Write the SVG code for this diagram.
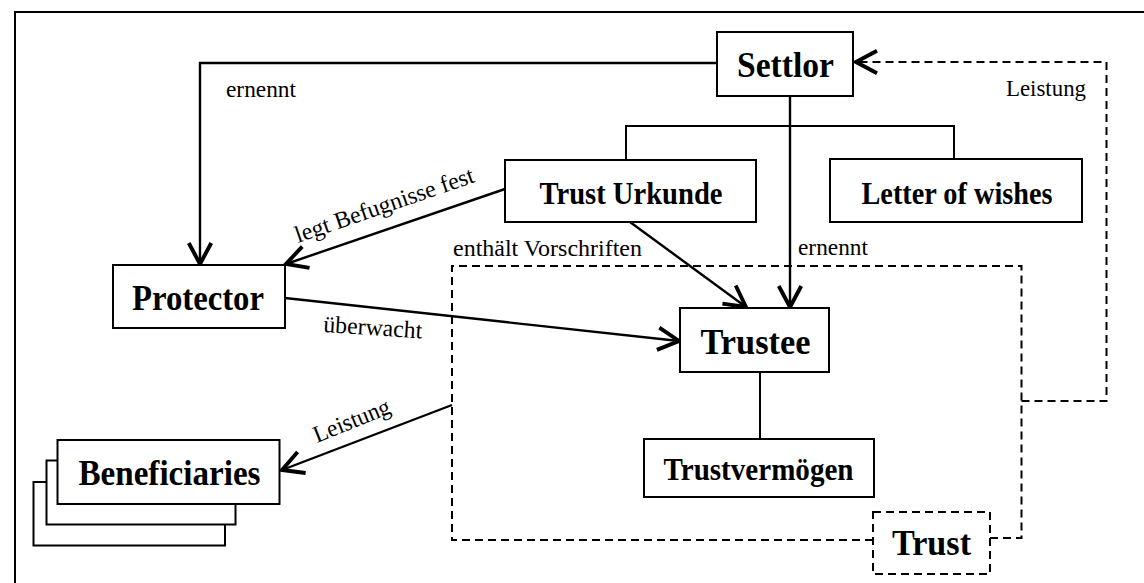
<svg xmlns="http://www.w3.org/2000/svg" width="1144" height="583" viewBox="0 0 1144 583">
<style>
.box{fill:#fff;stroke:#000;stroke-width:2}
.dbox{fill:none;stroke:#000;stroke-width:2;stroke-dasharray:8 5}
.ttl{font-family:"Liberation Serif","Times New Roman",serif;font-weight:bold;fill:#000;text-anchor:middle}
.big{font-size:36px}
.sml{font-size:31px}
.lbl{font-family:"Liberation Serif","Times New Roman",serif;font-size:24px;fill:#000}
.ln{fill:none;stroke:#000;stroke-width:2}
.ar{fill:none;stroke:#000;stroke-width:2.4}
.dl{fill:none;stroke:#000;stroke-width:2;stroke-dasharray:8 5}
</style>
<defs>
<marker id="arr" markerUnits="userSpaceOnUse" markerWidth="30" markerHeight="30" viewBox="-16 -10 20 20" refX="0" refY="0" orient="auto" overflow="visible">
<path d="M-14,-7.5 L0,0 L-14,7.5" fill="none" stroke="#000" stroke-width="2.6" stroke-dasharray="none"/>
</marker>
</defs>
<g id="frame"><path class="ln" d="M15,583 V12 H1144"/></g>
<g id="connectors">
<path class="ar" d="M717,63 H200 V264" marker-end="url(#arr)"/>
<path class="ln" d="M626,160 V126 H954 V159"/>
<path class="ar" d="M790,96 V307" marker-end="url(#arr)"/>
<path class="ar" d="M505,189 L286,264" marker-end="url(#arr)"/>
<path class="ar" d="M630,222 L746,307" marker-end="url(#arr)"/>
<path class="ar" d="M285,298 L679,341" marker-end="url(#arr)"/>
<path class="ln" d="M760,372 V439"/>
<path class="ar" d="M452,405 L282,470" marker-end="url(#arr)"/>
<path class="dl" d="M1021.5,401 H1106.5 V62 H856" marker-end="url(#arr)"/>
<text class="lbl" x="226" y="97" textLength="70" lengthAdjust="spacingAndGlyphs">ernennt</text>
<text class="lbl" x="1006" y="96" textLength="80" lengthAdjust="spacingAndGlyphs">Leistung</text>
<text class="lbl" x="798" y="255" textLength="70" lengthAdjust="spacingAndGlyphs">ernennt</text>
<text class="lbl" x="453" y="256" textLength="189" lengthAdjust="spacingAndGlyphs">enthält Vorschriften</text>
<text class="lbl" transform="translate(298,243) rotate(-19)" textLength="188" lengthAdjust="spacingAndGlyphs">legt Befugnisse fest</text>
<text class="lbl" transform="translate(323,332) rotate(3.7)" textLength="99" lengthAdjust="spacingAndGlyphs">überwacht</text>
<text class="lbl" transform="translate(317,443) rotate(-22)" textLength="81" lengthAdjust="spacingAndGlyphs">Leistung</text>
</g>
<g id="trust">
<path class="dbox" d="M873,540 H452 V266 H1021.5 V538 H990"/>
<rect class="dbox" x="873" y="512" width="117" height="62"/>
<text class="ttl big" x="931.5" y="555" textLength="79" lengthAdjust="spacingAndGlyphs">Trust</text>
</g>
<g id="settlor">
<rect class="box" x="717" y="32" width="136" height="64"/>
<text class="ttl big" x="785.5" y="77" textLength="97" lengthAdjust="spacingAndGlyphs">Settlor</text>
</g>
<g id="trust-urkunde">
<rect class="box" x="505" y="160" width="251" height="62"/>
<text class="ttl sml" x="631" y="204" textLength="183" lengthAdjust="spacingAndGlyphs">Trust Urkunde</text>
</g>
<g id="letter-of-wishes">
<rect class="box" x="830" y="159" width="252" height="63"/>
<text class="ttl sml" x="957" y="204" textLength="191" lengthAdjust="spacingAndGlyphs">Letter of wishes</text>
</g>
<g id="protector">
<rect class="box" x="113" y="265" width="172" height="63"/>
<text class="ttl big" x="198" y="310" textLength="132" lengthAdjust="spacingAndGlyphs">Protector</text>
</g>
<g id="trustee">
<rect class="box" x="680" y="308" width="149" height="64"/>
<text class="ttl big" x="755.5" y="354" textLength="110" lengthAdjust="spacingAndGlyphs">Trustee</text>
</g>
<g id="trustvermoegen">
<rect class="box" x="644" y="439" width="230" height="58"/>
<text class="ttl sml" x="758.5" y="480" textLength="190" lengthAdjust="spacingAndGlyphs">Trustvermögen</text>
</g>
<g id="beneficiaries">
<rect class="box" x="33.5" y="482" width="191.5" height="63.5"/>
<rect class="box" x="46.5" y="460.5" width="189" height="64"/>
<rect class="box" x="57.5" y="440" width="222" height="64"/>
<text class="ttl big" x="169.5" y="485" textLength="182" lengthAdjust="spacingAndGlyphs">Beneficiaries</text>
</g>
</svg>
